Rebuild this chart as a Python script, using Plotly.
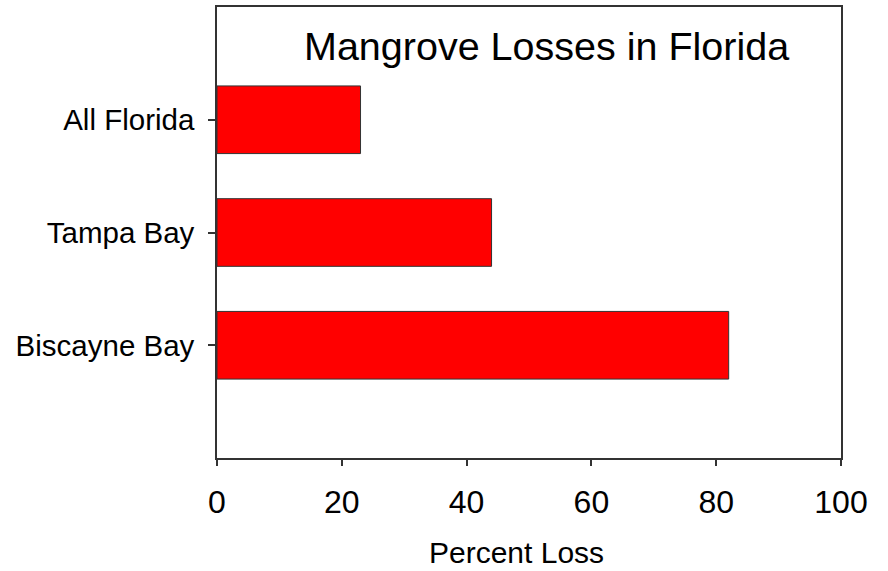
import plotly.graph_objects as go

# Mangrove loss by region (percent)
regions = ["Biscayne Bay", "Tampa Bay", "All Florida"]
percent_loss = [82, 44, 23]
region_pos = [0, 1, 2]
x_ticks = [0, 20, 40, 60, 80, 100]

W, H = 888, 571
L, R, T, B = 217, 47, 5, 113

fig = go.Figure(
    go.Bar(
        x=percent_loss,
        y=region_pos,
        orientation="h",
        width=0.6,
        marker=dict(color="#ff0000", line=dict(color="#333333", width=1)),
        hoverinfo="x+y",
    )
)

font = "Liberation Sans, Arial, sans-serif"

fig.update_layout(
    width=W,
    height=H,
    margin=dict(l=L, r=R, t=T, b=B),
    plot_bgcolor="white",
    paper_bgcolor="white",
    showlegend=False,
    font=dict(family=font, color="black"),
    xaxis=dict(
        range=[0, 100],
        tickvals=x_ticks,
        ticks="outside",
        ticklen=6,
        tickwidth=1.5,
        tickcolor="#333333",
        showline=True,
        linecolor="#333333",
        linewidth=1.5,
        mirror=True,
        showgrid=False,
        zeroline=False,
        tickfont=dict(size=32, family=font),
        ticklabelstandoff=9,
    ),
    yaxis=dict(
        range=[-1, 3],
        tickvals=region_pos,
        ticktext=regions,
        ticks="outside",
        ticklen=7,
        tickwidth=1.5,
        tickcolor="#333333",
        showline=True,
        linecolor="#333333",
        linewidth=1.5,
        mirror=True,
        showgrid=False,
        zeroline=False,
        tickfont=dict(size=29.5, family=font),
        ticklabelstandoff=8,
    ),
    annotations=[
        dict(
            text="Mangrove Losses in Florida",
            x=546.5 / W,
            y=1 - 44 / H,
            xref="paper",
            yref="paper",
            xanchor="center",
            yanchor="middle",
            showarrow=False,
            font=dict(size=39.5, family=font, color="black"),
        ),
        dict(
            text="Percent Loss",
            x=516 / W,
            y=1 - 553 / H,
            xref="paper",
            yref="paper",
            xanchor="center",
            yanchor="middle",
            showarrow=False,
            font=dict(size=30, family=font, color="black"),
        ),
    ],
)

# Annotations are placed in paper coords relative to the plot area; convert
# the pixel positions above accordingly.
pw = W - L - R
ph = H - T - B
for ann in fig.layout.annotations:
    px = ann.x * W
    py = (1 - ann.y) * H
    ann.x = (px - L) / pw
    ann.y = 1 - (py - T) / ph

fig.write_html("out.html")
